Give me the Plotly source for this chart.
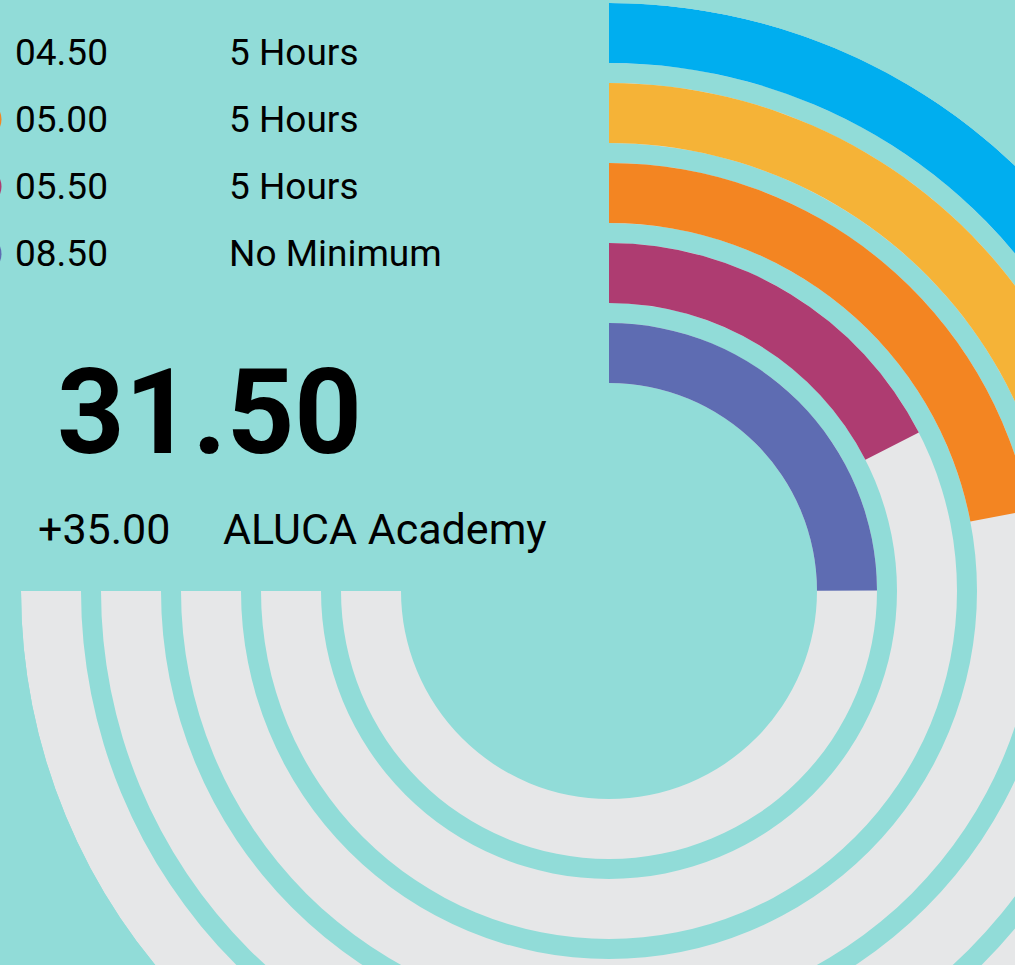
import plotly.graph_objects as go

# ---------------- data ----------------
ring_names = ["Purple", "Magenta", "Orange", "Yellow", "Blue"]          # inner -> outer
ring_pct = [33.3, 23.3, 29.3, 40.0, 45.0]                               # % of the 270° track
ring_colors = ["#5E6CB2", "#AE3C71", "#F38522", "#F5B337", "#00AEEF"]

row_values = ["04.50", "05.00", "05.50", "08.50"]
row_labels = ["5 Hours", "5 Hours", "5 Hours", "No Minimum"]
row_colors = ["#F5B337", "#F38522", "#AE3C71", "#5E6CB2"]

total_value = "31.50"
delta_value = "+35.00"
school_name = "ALUCA Academy"

# ---------------- style / layout ----------------
BG = "#91DCD8"
TRACK = "#E6E7E8"
FONT = "Roboto"
W, H = 1200, 1200
CX, CY, R = 609, 591, 588          # polar centre and outer radius in px
TRACK_DEG = 270
HOLE = 2.6                          # radial units (80 px each)
THICK = 0.75
RMAX = 7.35

n = len(ring_pct)
bases = [HOLE + i for i in range(n)]

fig = go.Figure()

# grey background tracks
fig.add_trace(go.Barpolar(
    r=[THICK] * n, base=bases,
    theta=[TRACK_DEG / 2] * n, width=[TRACK_DEG] * n,
    marker=dict(color=TRACK, line=dict(width=0)),
    hoverinfo="skip", showlegend=False, subplot="polar",
))
# coloured progress arcs
deg = [p / 100 * TRACK_DEG for p in ring_pct]
fig.add_trace(go.Barpolar(
    r=[THICK] * n, base=bases,
    theta=[d / 2 for d in deg], width=deg,
    marker=dict(color=ring_colors, line=dict(width=0)),
    text=ring_names, hoverinfo="text", showlegend=False, subplot="polar",
))

# legend dots (mostly clipped at the left edge)
row_y = [52 + 67.3 * i for i in range(len(row_values))]
dot_x = [-30, -18.5, -18.5, -18.5]
fig.add_trace(go.Scatter(
    x=dot_x, y=row_y, mode="markers",
    marker=dict(size=40, color=row_colors, line=dict(width=0)),
    hoverinfo="skip", showlegend=False, xaxis="x", yaxis="y",
))

annotations = []
for i, (v, lab) in enumerate(zip(row_values, row_labels)):
    annotations.append(dict(x=13, y=row_y[i], xref="x", yref="y", text=v,
                            showarrow=False, xanchor="left", yanchor="middle",
                            font=dict(family=FONT, size=37, color="#000")))
    annotations.append(dict(x=227, y=row_y[i], xref="x", yref="y", text=lab,
                            showarrow=False, xanchor="left", yanchor="middle",
                            font=dict(family=FONT, size=37, color="#000")))
annotations.append(dict(x=55, y=413, xref="x", yref="y", text="<b>" + total_value + "</b>",
                        showarrow=False, xanchor="left", yanchor="middle",
                        font=dict(family=FONT, size=118, color="#000")))
annotations.append(dict(x=36, y=529, xref="x", yref="y", text=delta_value,
                        showarrow=False, xanchor="left", yanchor="middle",
                        font=dict(family=FONT, size=43, color="#000")))
annotations.append(dict(x=221, y=529, xref="x", yref="y", text=school_name,
                        showarrow=False, xanchor="left", yanchor="middle",
                        font=dict(family=FONT, size=43, color="#000")))

fig.update_layout(
    width=W, height=H,
    margin=dict(l=0, r=0, t=0, b=0, pad=0),
    paper_bgcolor=BG, plot_bgcolor="rgba(0,0,0,0)",
    font=dict(family=FONT),
    xaxis=dict(domain=[0, 1], range=[0, W], visible=False, fixedrange=True),
    yaxis=dict(domain=[0, 1], range=[H, 0], visible=False, fixedrange=True),
    polar=dict(
        domain=dict(x=[(CX - R) / W, (CX + R) / W], y=[1 - (CY + R) / H, 1 - (CY - R) / H]),
        bgcolor="rgba(0,0,0,0)",
        barmode="overlay",
        radialaxis=dict(range=[0, RMAX], visible=False, showgrid=False),
        angularaxis=dict(rotation=90, direction="clockwise", visible=False,
                         showgrid=False, showline=False, showticklabels=False),
    ),
    annotations=annotations,
    showlegend=False,
)

fig.write_html("out.html",
               post_script="document.body.style.margin='0';document.body.style.overflow='hidden';"
                           "document.documentElement.style.overflow='hidden';")
